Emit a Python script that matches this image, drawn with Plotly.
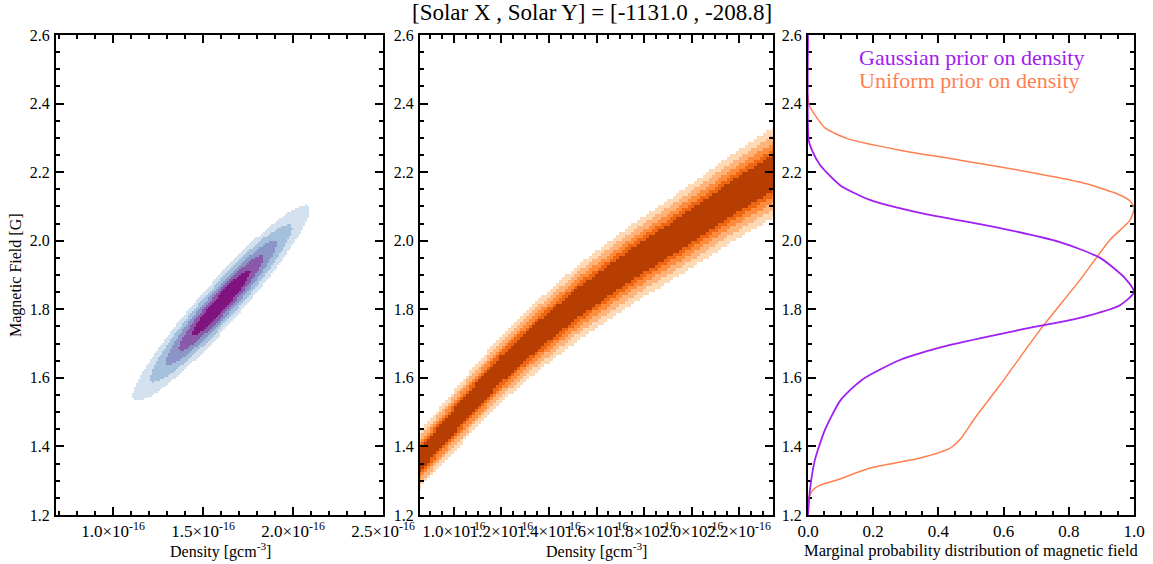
import numpy as np
import plotly.graph_objects as go

W, H = 1153, 564
SERIF = "Liberation Serif"

# ---------------- shared magnetic-field axis ----------------
field_range = [1.2, 2.6]
field_ticks = [1.2, 1.4, 1.6, 1.8, 2.0, 2.2, 2.4, 2.6]
field_ticktext = ["1.2", "1.4", "1.6", "1.8", "2.0", "2.2", "2.4", "2.6"]

# ---------------- panel 1: Gaussian prior on density ----------------
# density in units of 1e-16 g cm^-3
dens1_range = [0.683, 2.5]
dens1_ticks = [1.0, 1.5, 2.0, 2.5]
dens1_ticktext = ["1.0×10<sup>-16</sup>", "1.5×10<sup>-16</sup>",
                  "2.0×10<sup>-16</sup>", "2.5×10<sup>-16</sup>"]
gauss_peak = (1.600, 1.818)        # (density, field) of the posterior maximum
gauss_tip = (0.467, 0.287)         # offset from the peak to the outer tip along the ridge
gauss_halfwidth = 0.15             # density half-width of the outer contour at the peak
gauss_levels = [1.0, 0.80, 0.63, 0.48, 0.33]
gauss_colors = ["#d3e1ee", "#a5c0dc", "#8c96c6", "#8a59a9", "#80137e"]

# ---------------- panel 2: uniform prior on density ----------------
dens2_range = [0.857, 2.343]
dens2_ticks = [1.0, 1.2, 1.4, 1.6, 1.8, 2.0, 2.2]
dens2_ticktext = [f"{v:.1f}×10<sup>-16</sup>" for v in dens2_ticks]
ridge_density = [0.857, 1.054, 1.194, 1.333, 1.531, 1.754, 1.897, 2.036, 2.175, 2.343]
ridge_field = [1.360, 1.516, 1.623, 1.712, 1.825, 1.935, 1.998, 2.062, 2.128, 2.200]
ridge_halfwidth_frac = 0.060       # outer half-width as a fraction of the ridge field
uniform_levels = [1.0, 0.82, 0.66, 0.52, 0.40]
uniform_colors = ["#fdd9b5", "#fdb37a", "#fd8d3c", "#ee6512", "#b63e02"]

# ---------------- panel 3: marginal distributions of B ----------------
gauss_marg_B = [2.600, 2.294, 2.264, 2.221, 2.162, 2.119, 2.081, 2.037, 1.996, 1.950,
                1.891, 1.850, 1.812, 1.775, 1.740, 1.696, 1.652, 1.594, 1.535, 1.448,
                1.360, 1.273, 1.200]
gauss_marg_p = [0.000, 0.002, 0.012, 0.037, 0.098, 0.190, 0.344, 0.589, 0.773, 0.896,
                0.972, 1.000, 0.957, 0.834, 0.650, 0.436, 0.282, 0.165, 0.100, 0.052,
                0.021, 0.006, 0.000]
unif_marg_B = [2.425, 2.396, 2.367, 2.329, 2.297, 2.264, 2.235, 2.200, 2.171, 2.139,
               2.116, 2.095, 2.060, 2.002, 1.885, 1.740, 1.579, 1.483, 1.427, 1.395,
               1.366, 1.337, 1.302, 1.287, 1.273, 1.252, 1.200]
unif_marg_p = [0.000, 0.003, 0.021, 0.052, 0.123, 0.282, 0.466, 0.681, 0.834, 0.942,
               0.988, 1.000, 0.988, 0.926, 0.834, 0.712, 0.589, 0.512, 0.472, 0.436,
               0.344, 0.190, 0.089, 0.037, 0.015, 0.003, 0.000]
prob_ticks = [0.0, 0.2, 0.4, 0.6, 0.8, 1.0]
prob_ticktext = ["0.0", "0.2", "0.4", "0.6", "0.8", "1.0"]

PURPLE = "#a020f0"
CORAL = "#ff7f50"


def level_map(r, levels):
    z = np.full(r.shape, np.nan)
    for i, lv in enumerate(levels):
        z[r <= lv] = i + 1
    return z


def step_scale(colors):
    n = len(colors)
    cs = []
    for i, c in enumerate(colors):
        cs += [[i / n, c], [(i + 1) / n, c]]
    return cs


# panel 1 image
d1 = np.arange(dens1_range[0], dens1_range[1], 0.011)
b1 = np.arange(field_range[0], field_range[1], 0.0058)
D1, B1 = np.meshgrid(d1, b1)
s = (B1 - gauss_peak[1]) / gauss_tip[1]
t = (D1 - gauss_peak[0] - s * gauss_tip[0]) / gauss_halfwidth
z1 = level_map(np.sqrt(s ** 2 + t ** 2), gauss_levels)

# panel 2 image
d2 = np.arange(dens2_range[0], dens2_range[1] + 0.02, 0.0126)
b2 = np.arange(field_range[0], field_range[1], 0.00875)
D2, B2 = np.meshgrid(d2, b2)
Bc = np.interp(D2, ridge_density, ridge_field)
z2 = level_map(np.abs(B2 - Bc) / (ridge_halfwidth_frac * Bc), uniform_levels)

fig = go.Figure()
fig.add_trace(go.Heatmap(x=d1, y=b1, z=z1, zmin=0.5, zmax=len(gauss_colors) + 0.5,
                         colorscale=step_scale(gauss_colors), showscale=False,
                         hoverinfo="skip", xaxis="x", yaxis="y"))
fig.add_trace(go.Heatmap(x=d2, y=b2, z=z2, zmin=0.5, zmax=len(uniform_colors) + 0.5,
                         colorscale=step_scale(uniform_colors), showscale=False,
                         hoverinfo="skip", xaxis="x2", yaxis="y2"))
fig.add_trace(go.Scatter(x=unif_marg_p, y=unif_marg_B, mode="lines",
                         line=dict(color=CORAL, width=1.5, shape="spline", smoothing=0.6),
                         cliponaxis=False, showlegend=False, xaxis="x3", yaxis="y3"))
fig.add_trace(go.Scatter(x=gauss_marg_p, y=gauss_marg_B, mode="lines",
                         line=dict(color=PURPLE, width=1.8, shape="spline", smoothing=0.6),
                         cliponaxis=False, showlegend=False, xaxis="x3", yaxis="y3"))


def axis_style(rng, ticks, text, minor_vals, domain, anchor, fsize, standoff,
               layer="above traces"):
    return dict(range=rng, domain=domain, anchor=anchor, tickmode="array",
                tickvals=ticks, ticktext=text, tickangle=0, automargin=False,
                ticks="inside", ticklen=8, tickwidth=1.5, tickcolor="black",
                ticklabelstandoff=standoff,
                minor=dict(tickmode="array", tickvals=minor_vals, ticks="inside",
                           ticklen=4, tickwidth=1.5, tickcolor="black"),
                mirror="allticks", showline=True, linewidth=2, linecolor="black",
                showgrid=False, zeroline=False,
                tickfont=dict(family=SERIF, size=fsize, color="black"), layer=layer)


x_dom = [[56 / W, 383 / W], [420 / W, 773 / W], [808 / W, 1134 / W]]
y_dom = [1 - 515 / H, 1 - 35 / H]

field_minor = list(np.round(np.arange(1.2, 2.6001, 0.05), 3))
dens1_minor = list(np.round(np.arange(0.7, 2.5001, 0.1), 3))
dens2_minor = list(np.round(np.arange(0.9, 2.3001, 0.05), 3))
prob_minor = list(np.round(np.arange(0.0, 1.0001, 0.05), 3))

fig.update_layout(
    template="none",
    width=W, height=H, autosize=False,
    margin=dict(l=0, r=0, t=0, b=0, pad=0, autoexpand=False),
    paper_bgcolor="white", plot_bgcolor="white",
    xaxis=axis_style(dens1_range, dens1_ticks, dens1_ticktext, dens1_minor, x_dom[0], "y", 17, 0),
    yaxis=axis_style(field_range, field_ticks, field_ticktext, field_minor, y_dom, "x", 16, 1),
    xaxis2=axis_style(dens2_range, dens2_ticks, dens2_ticktext, dens2_minor, x_dom[1], "y2", 17, 0),
    yaxis2=axis_style(field_range, field_ticks, field_ticktext, field_minor, y_dom, "x2", 16, 1),
    xaxis3=axis_style([0, 1], prob_ticks, prob_ticktext, prob_minor, x_dom[2], "y3", 17, 0,
                      layer="below traces"),
    yaxis3=axis_style(field_range, field_ticks, field_ticktext, field_minor, y_dom, "x3", 16, 1,
                      layer="below traces"),
    showlegend=False,
)

ann_font = dict(family=SERIF, size=16, color="black")
annotations = [
    dict(text="[Solar X , Solar Y] = [-1131.0 , -208.8]", x=592 / W, y=1 - 12 / H,
         font=dict(family=SERIF, size=23, color="black")),
    dict(text="Density [gcm<sup>-3</sup>]", x=220 / W, y=1 - 550 / H, font=ann_font),
    dict(text="Density [gcm<sup>-3</sup>]", x=596 / W, y=1 - 550 / H, font=ann_font),
    dict(text="Marginal probability distribution of magnetic field", x=971 / W,
         y=1 - 550 / H, font=dict(family=SERIF, size=16.5, color="black")),
    dict(text="Magnetic Field [G]", x=16 / W, y=1 - 275 / H, textangle=-90,
         font=ann_font),
    dict(text="Gaussian prior on density", x=857 / W, y=1 - 57 / H, xanchor="left",
         font=dict(family=SERIF, size=22, color=PURPLE)),
    dict(text="Uniform prior on density", x=857 / W, y=1 - 81 / H, xanchor="left",
         font=dict(family=SERIF, size=22, color=CORAL)),
]
for a in annotations:
    a.setdefault("xanchor", "center")
    a.update(xref="paper", yref="paper", yanchor="middle", showarrow=False)
fig.update_layout(annotations=annotations)

fig.write_html("out.html")
